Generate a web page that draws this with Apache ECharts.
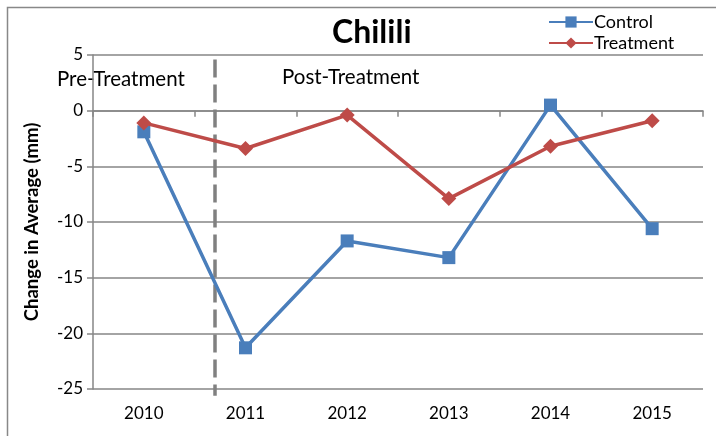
<!DOCTYPE html>
<html>
<head>
<meta charset="utf-8">
<script src="https://cdn.jsdelivr.net/npm/echarts@6/dist/echarts.min.js"></script>
<style>html,body{margin:0;padding:0;background:#fff;}#c{width:716px;height:436px;}</style>
</head>
<body>
<div id="c"></div>
<script>
const categories = ['2010', '2011', '2012', '2013', '2014', '2015'];
const controlValues = [-1.9, -21.3, -11.7, -13.2, 0.5, -10.6];
const treatmentValues = [-1.1, -3.4, -0.4, -7.9, -3.2, -0.9];
const seriesNames = ['Control', 'Treatment'];
const yTicks = { min: -25, max: 5, interval: 5 };
const dividerPos = 0.7;          // position between 2010 (0) and 2011 (1)
const dividerRange = [4.6, -25.6];
const phaseLabels = ['Pre-Treatment', 'Post-Treatment'];
const titleText = 'Chilili';
const yAxisTitle = 'Change in Average (mm)';

const FONT = 'Lato, "Open Sans", sans-serif';
const chart = echarts.init(document.getElementById('c'), null, { renderer: 'canvas' });
chart.setOption({
  animation: false,
  backgroundColor: '#fff',
  title: {
    text: titleText, left: 327, top: 12,
    textStyle: { fontFamily: FONT, fontWeight: 'bold', fontSize: 32, color: '#000' }
  },
  legend: {
    data: seriesNames, orient: 'vertical', left: 543, top: 8, itemGap: 3,
    itemWidth: 44, itemHeight: 14,
    textStyle: { fontFamily: FONT, fontSize: 18, color: '#000', padding: [0, 0, 0, -4] }
  },
  grid: { left: 93, right: 13, top: 55, bottom: 47, containLabel: false },
  xAxis: [
    {
      type: 'category', data: categories, position: 'bottom', boundaryGap: true,
      axisLine: { show: false, onZero: false },
      axisTick: { show: false },
      axisLabel: { fontFamily: FONT, fontSize: 17, color: '#000', margin: 16 }
    },
    {
      type: 'category', data: categories, position: 'top', boundaryGap: true,
      axisLine: { show: true, onZero: true, lineStyle: { color: '#868686', width: 1.5 } },
      axisTick: { show: true, inside: true, length: 6, lineStyle: { color: '#868686', width: 1.5 } },
      axisLabel: { show: false }
    },
    { type: 'value', min: -0.5, max: 5.5, show: false }
  ],
  yAxis: {
    type: 'value', min: yTicks.min, max: yTicks.max, interval: yTicks.interval,
    name: yAxisTitle, nameLocation: 'middle', nameGap: 51, nameRotate: 90,
    nameTextStyle: { fontFamily: FONT, fontWeight: 'bold', fontSize: 18.5, color: '#000' },
    axisLine: { show: true, onZero: false, lineStyle: { color: '#868686', width: 1.5 } },
    axisTick: { show: true, length: 6, lineStyle: { color: '#868686', width: 1.5 } },
    axisLabel: { fontFamily: FONT, fontSize: 17, color: '#000', margin: 10 },
    splitLine: { show: true, lineStyle: { color: '#868686', width: 1.5 } }
  },
  graphic: [
    { type: 'rect', shape: { x: 7.5, y: 7.5, width: 760, height: 480 }, style: { fill: 'none', stroke: '#888', lineWidth: 1.5 }, silent: true, z: -10 },
    { type: 'text', left: 57, top: 69, style: { text: phaseLabels[0], font: '20.5px ' + FONT, fill: '#000' } },
    { type: 'text', left: 282, top: 67, style: { text: phaseLabels[1], font: '20.5px ' + FONT, fill: '#000' } }
  ],
  series: [
    {
      name: 'divider', type: 'line', xAxisIndex: 2, clip: false, silent: true,
      data: [[dividerPos, dividerRange[0]], [dividerPos, dividerRange[1]]],
      symbol: 'none', lineStyle: { color: '#808080', width: 3.5, type: [18, 7] }, z: 1
    },
    {
      name: seriesNames[0], type: 'line', data: controlValues,
      symbol: 'rect', symbolSize: 13, color: '#4A7EBB',
      lineStyle: { width: 3.5, color: '#4A7EBB' }, itemStyle: { color: '#4A7EBB' }, z: 3
    },
    {
      name: seriesNames[1], type: 'line', data: treatmentValues,
      symbol: 'diamond', symbolSize: 15, color: '#BE4B48',
      lineStyle: { width: 3.5, color: '#BE4B48' }, itemStyle: { color: '#BE4B48' }, z: 4
    }
  ]
});
</script>
</body>
</html>
